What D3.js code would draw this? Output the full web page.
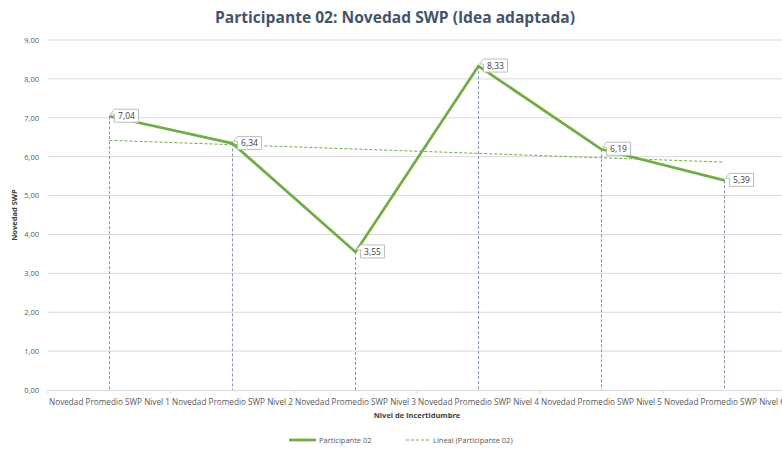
<!DOCTYPE html>
<html>
<head>
<meta charset="utf-8">
<script src="https://cdn.jsdelivr.net/npm/d3@7"></script>
<style>
  body { margin: 0; background: #fff; }
  svg { font-family: "Open Sans", "Liberation Sans", sans-serif; }
</style>
</head>
<body>
<svg id="chart" width="782" height="452"></svg>
<script>
// data
const categories = ["Novedad Promedio SWP Nivel 1", "Novedad Promedio SWP Nivel 2", "Novedad Promedio SWP Nivel 3",
  "Novedad Promedio SWP Nivel 4", "Novedad Promedio SWP Nivel 5", "Novedad Promedio SWP Nivel 6"];
const participante02 = [7.04, 6.34, 3.55, 8.33, 6.19, 5.39];
const yTicks = [0, 1, 2, 3, 4, 5, 6, 7, 8, 9];

const green = "#70AD47";
const fmt = v => d3.format(".2f")(v).replace(".", ",");

const svg = d3.select("#chart");
const plotLeft = 48, plotRight = 786, plotTop = 40, plotBottom = 390;

// scales
const x = d3.scaleBand().domain(categories).range([plotLeft, plotRight]);
const y = d3.scaleLinear().domain([0, 9]).range([plotBottom, plotTop]);
const cx = d => x(d) + x.bandwidth() / 2;

// title
svg.append("text")
  .attr("x", 395).attr("y", 23)
  .attr("text-anchor", "middle")
  .attr("font-size", 15.6).attr("font-weight", "bold")
  .attr("fill", "#44546A")
  .text("Participante 02: Novedad SWP (Idea adaptada)");

// gridlines
svg.append("g").selectAll("line")
  .data(yTicks.filter(t => t > 0))
  .join("line")
  .attr("x1", plotLeft).attr("x2", plotRight)
  .attr("y1", d => y(d)).attr("y2", d => y(d))
  .attr("stroke", "#D9D9D9").attr("stroke-width", 1);

// y axis labels
const yAxis = svg.append("g")
  .attr("transform", `translate(${plotLeft},0)`)
  .call(d3.axisLeft(y).tickValues(yTicks).tickFormat(fmt).tickSize(0).tickPadding(9));
yAxis.select(".domain").remove();
yAxis.selectAll("text").attr("fill", "#595959").attr("font-size", 7.5)
  .attr("font-family", "'Open Sans', sans-serif");

// x axis
const xAxis = svg.append("g")
  .attr("transform", `translate(0,${plotBottom})`)
  .call(d3.axisBottom(x).tickSize(0).tickPadding(9));
xAxis.select(".domain").attr("stroke", "#D9D9D9");
xAxis.selectAll("text").attr("fill", "#595959").attr("font-size", 8.2)
  .attr("font-family", "'Open Sans', sans-serif");
// tick marks between categories
xAxis.append("g").selectAll("line")
  .data(categories)
  .join("line")
  .attr("x1", d => x(d)).attr("x2", d => x(d))
  .attr("y1", 0).attr("y2", 4)
  .attr("stroke", "#D9D9D9");

// axis titles
svg.append("text")
  .attr("x", (plotLeft + plotRight) / 2).attr("y", 418)
  .attr("text-anchor", "middle")
  .attr("font-size", 7.5).attr("font-weight", "bold").attr("fill", "#404040")
  .text("Nivel de incertidumbre");
svg.append("text")
  .attr("transform", `translate(17,${(plotTop + plotBottom) / 2}) rotate(-90)`)
  .attr("text-anchor", "middle")
  .attr("font-size", 7.5).attr("font-weight", "bold").attr("fill", "#404040")
  .text("Novedad SWP");

// drop lines
svg.append("g").selectAll("line")
  .data(participante02)
  .join("line")
  .attr("x1", (d, i) => cx(categories[i])).attr("x2", (d, i) => cx(categories[i]))
  .attr("y1", d => y(d)).attr("y2", plotBottom)
  .attr("stroke", "#8497B0").attr("stroke-width", 1)
  .attr("stroke-dasharray", "3,2");

// linear trend
const n = participante02.length;
const xs = d3.range(1, n + 1);
const mx = d3.mean(xs), my = d3.mean(participante02);
const slope = d3.sum(xs, (v, i) => (v - mx) * (participante02[i] - my)) / d3.sum(xs, v => (v - mx) ** 2);
const trend = xs.map(v => my + slope * (v - mx));
svg.append("line")
  .attr("x1", cx(categories[0])).attr("y1", y(trend[0]))
  .attr("x2", cx(categories[n - 1])).attr("y2", y(trend[n - 1]))
  .attr("stroke", green).attr("stroke-width", 1)
  .attr("stroke-dasharray", "3,2");

// main line
const line = d3.line()
  .x((d, i) => cx(categories[i]))
  .y(d => y(d));
svg.append("path")
  .datum(participante02)
  .attr("d", line)
  .attr("fill", "none")
  .attr("stroke", green).attr("stroke-width", 2.75)
  .attr("stroke-linejoin", "round");

// data labels with callout
const lbl = svg.append("g").selectAll("g")
  .data(participante02)
  .join("g")
  .attr("transform", (d, i) => `translate(${cx(categories[i])},${y(d)})`);
lbl.append("path")
  .attr("d", "M5,-7 H29 V6 H5 V-2 L1,-2 L5,-7 Z")
  .attr("fill", "#fff").attr("stroke", "#BFBFBF").attr("stroke-width", 1);
lbl.append("text")
  .attr("x", 17).attr("y", 2.8)
  .attr("text-anchor", "middle")
  .attr("font-size", 8.5).attr("fill", "#404040")
  .text(d => fmt(d));

// legend
const lg = svg.append("g").attr("transform", "translate(0,440)");
lg.append("line").attr("x1", 289).attr("x2", 316).attr("y1", 0).attr("y2", 0)
  .attr("stroke", green).attr("stroke-width", 2.75);
lg.append("text").attr("x", 319).attr("y", 3).attr("font-size", 7.5).attr("fill", "#595959")
  .text("Participante 02");
lg.append("line").attr("x1", 406).attr("x2", 430).attr("y1", 0).attr("y2", 0)
  .attr("stroke", green).attr("stroke-width", 1).attr("stroke-dasharray", "3,2");
lg.append("text").attr("x", 433).attr("y", 3).attr("font-size", 7.5).attr("fill", "#595959")
  .text("Lineal (Participante 02)");
</script>
</body>
</html>
